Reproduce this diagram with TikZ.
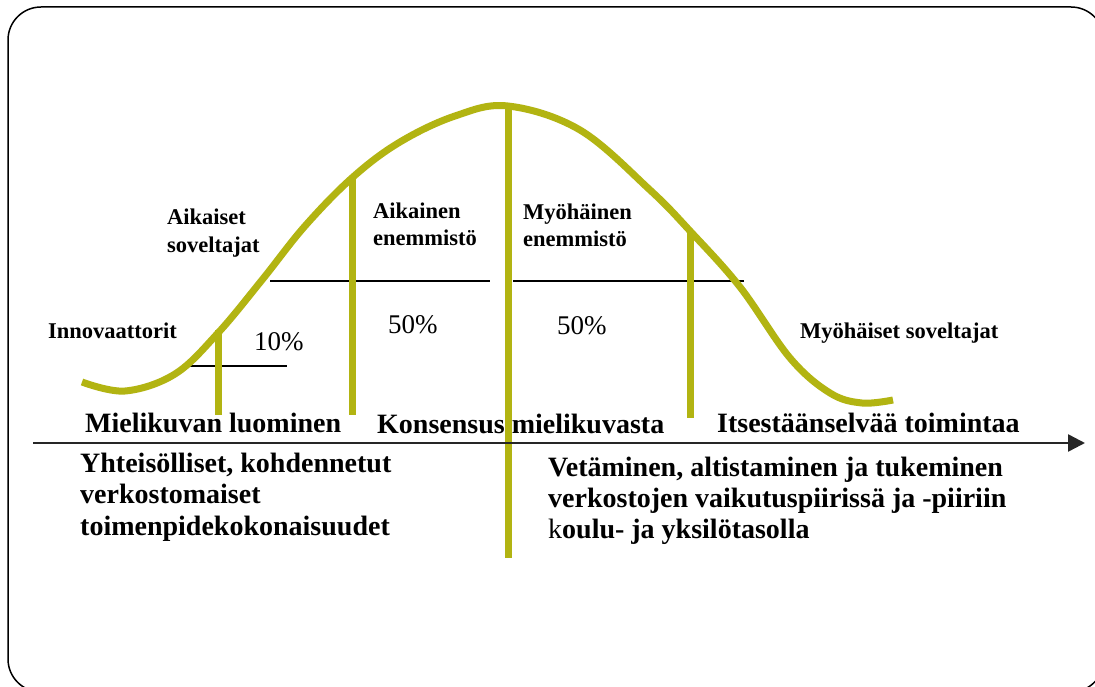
\documentclass[tikz,border=0pt]{standalone}
\usepackage{fontspec}
\setmainfont{Liberation Serif}
\usetikzlibrary{arrows.meta}
\definecolor{olive}{RGB}{178,180,18}
\tikzset{
  small/.style={anchor=base west, inner sep=0pt, font=\fontsize{22.5}{27}\selectfont\bfseries},
  big/.style={anchor=base west, inner sep=0pt, font=\fontsize{28}{31.5}\selectfont\bfseries},
  pct/.style={anchor=base west, inner sep=0pt, font=\fontsize{27}{30}\selectfont},
  curveline/.style={draw=olive, line width=7pt},
  bar/.style={draw=olive, line width=7pt},
  thin/.style={draw=black, line width=1.3pt},
  axis/.style={draw=black!85, line width=2.5pt, -{Triangle[length=17pt,width=17pt]}},
  frame/.style={draw=black, line width=1.5pt, rounded corners=33pt}
}
\begin{document}
\begin{tikzpicture}[x=1pt,y=-1pt]
\useasboundingbox (0,0) rectangle (1095,687);
\clip (0,0) rectangle (1095,687);
\fill[white] (0,0) rectangle (1095,687);
\draw[frame] (8,7) rectangle (1104,692);

% texts
\node[small] (inn) at (48,338) {Innovaattorit};
\node[small] (aik) at (167,225) {\begin{tabular}[t]{@{}l@{}}Aikaiset\\[1pt] soveltajat\end{tabular}};
\node[small] (aen) at (373,219) {\begin{tabular}[t]{@{}l@{}}Aikainen\\[-1pt] enemmistö\end{tabular}};
\node[small] (men) at (523,220) {\begin{tabular}[t]{@{}l@{}}Myöhäinen\\ enemmistö\end{tabular}};
\node[small] (mys) at (800,338) {Myöhäiset soveltajat};
\node[pct] (p10) at (254,350) {10\%};
\node[pct] (p50a) at (388,333) {50\%};
\node[pct] (p50b) at (557,334) {50\%};
\node[big] (mie) at (85,432) {Mielikuvan luominen};
\node[big] (kon) at (377,433) {Konsensus mielikuvasta};
\node[big] (its) at (717,432) {Itsestäänselvää toimintaa};
\node[big] (yht) at (80,472) {\begin{tabular}[t]{@{}l@{}}Yhteisölliset, kohdennetut\\ verkostomaiset\\ toimenpidekokonaisuudet\end{tabular}};
\node[big] (vet) at (548,476) {\begin{tabular}[t]{@{}l@{}}Vetäminen, altistaminen ja tukeminen\\[-0.5pt] verkostojen vaikutuspiirissä ja -piiriin\\[-0.5pt] {\mdseries k}oulu- ja yksilötasolla\end{tabular}};

% coordinates
\coordinate (h1a) at (184,366); \coordinate (h1b) at (287,366);
\coordinate (h2a) at (270,281); \coordinate (h2b) at (490,281);
\coordinate (h3a) at (513,281); \coordinate (h3b) at (744,281);
\coordinate (v1t) at (218,330); \coordinate (v1b) at (218,415);
\coordinate (v2t) at (352,177); \coordinate (v2b) at (352,415);
\coordinate (v3t) at (508,105); \coordinate (v3b) at (508,558);
\coordinate (v4t) at (690,230); \coordinate (v4b) at (690,418);
\coordinate (axs) at (33,443); \coordinate (axe) at (1085,443);

% thin lines
\draw[thin] (h1a) -- (h1b);
\draw[thin] (h2a) -- (h2b);
\draw[thin] (h3a) -- (h3b);

% curve
\draw[curveline] plot[smooth, tension=0.6] coordinates {
(82,382) (125,391) (175,374) (218,333) (262,280) (305,226) (353,177)
(400,142) (455,116) (508,106) (580,130) (650,190) (691,232) (740,287) (790,358)
(830,393) (862,403) (893,400)};

% bars
\draw[bar] (v1t) -- (v1b);
\draw[bar] (v2t) -- (v2b);
\draw[bar] (v3t) -- (v3b);
\draw[bar] (v4t) -- (v4b);

% axis
\draw[axis] (axs) -- (axe);
\end{tikzpicture}
\end{document}
